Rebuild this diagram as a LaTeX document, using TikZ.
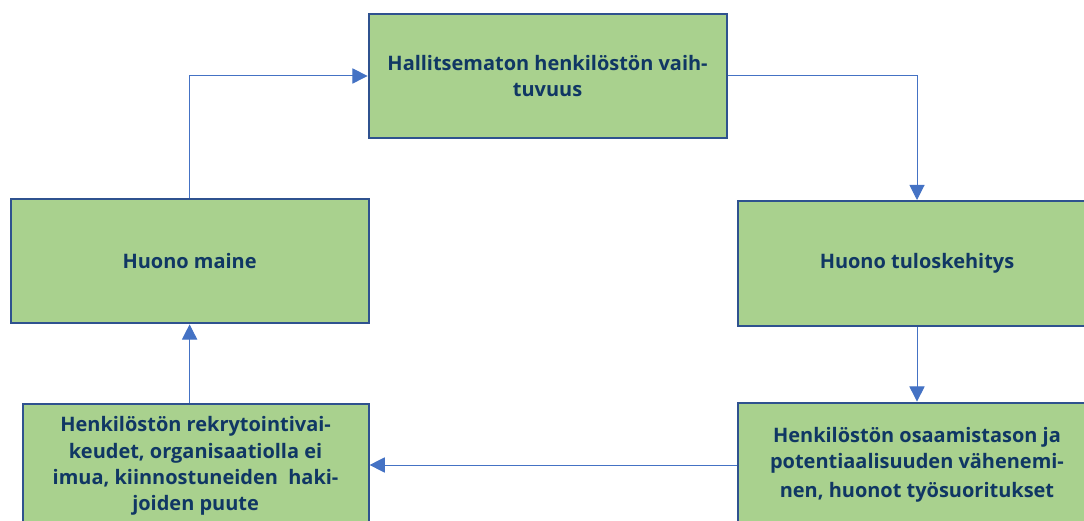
\documentclass[tikz,border=0pt]{standalone}
\usepackage{fontspec}
\setmainfont{Open Sans}
\usetikzlibrary{arrows.meta}
\definecolor{boxfill}{RGB}{169,209,142}
\definecolor{boxline}{RGB}{47,82,143}
\definecolor{boxtext}{RGB}{16,55,100}
\definecolor{linkline}{RGB}{68,114,196}
\tikzset{
    box/.style={draw=boxline, line width=1.4pt, fill=boxfill, text=boxtext,
        minimum width=8.95cm, minimum height=3.12cm, align=center,
        font=\fontsize{14.2}{18.6}\selectfont\bfseries},
    link/.style={draw=linkline, line width=.7pt,
        -{Triangle[length=.38cm, width=.38cm]}}
}
\begin{document}
\begin{tikzpicture}
            \clip(0, 0)rectangle(27.1, 13.025);
            \node[box](vaihtuvuus)at(13.69, 11.125){Hallitsematon henkilöstön vaih-\\tuvuus};
            \node[box](maine)at(4.74, 6.5){Huono maine};
            \node[box](tulos)at(22.925, 6.44){Huono tuloskehitys};
            \node[box](osaaminen)at(22.925, 1.4){Henkilöstön osaamistason ja\\potentiaalisuuden vähenemi-\\[2pt]nen, huonot työsuoritukset};
            \node[box, minimum width=8.65cm](rekrytointi)at(4.89, 1.375){Henkilöstön rekrytointivai-\\keudet, organisaatiolla ei\\imua, kiinnostuneiden\ \ haki-\\joiden puute};
            \draw[link](maine.north)|-(vaihtuvuus.west);
            \draw[link](vaihtuvuus.east)-|(tulos.north);
            \draw[link](tulos.south)--(osaaminen.north);
            \draw[link](osaaminen.west)--(rekrytointi.east |- osaaminen.west);
            \draw[link](maine.south |- rekrytointi.north)--(maine.south);
\end{tikzpicture}
\end{document}
